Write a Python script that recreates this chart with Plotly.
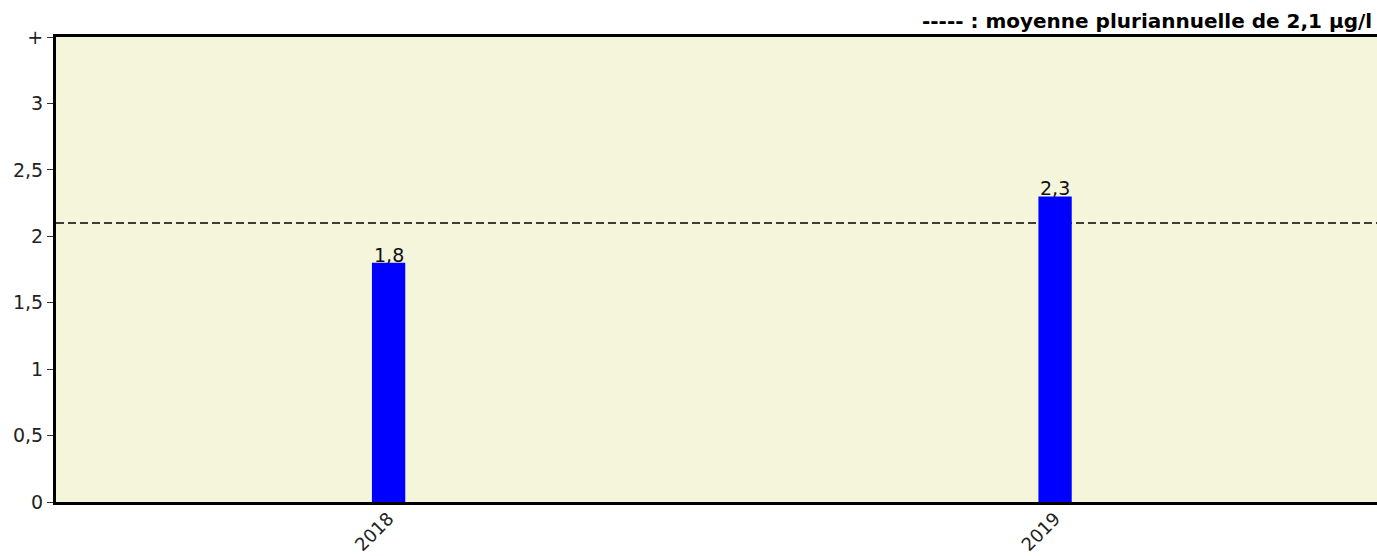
import plotly.graph_objects as go

years = ["2018", "2019"]
values = [1.8, 2.3]
value_labels = ["1,8", "2,3"]
mean_value = 2.1
y_tickvals = [0, 0.5, 1, 1.5, 2, 2.5, 3, 3.5]
y_ticktext = ["0", "0,5", "1", "1,5", "2", "2,5", "3", "+"]
legend_text = "----- : moyenne pluriannuelle de 2,1 µg/l"

FONT = "DejaVu Sans, Verdana, sans-serif"
FS = 19

fig = go.Figure()
fig.add_trace(go.Bar(
    x=years, y=values,
    marker=dict(color="#0000FF", line=dict(width=0)),
    width=0.05, hoverinfo="skip",
))

for i, (v, lab) in enumerate(zip(values, value_labels)):
    fig.add_annotation(x=i, y=v, xref="x", yref="y", text=lab,
                       showarrow=False, yanchor="bottom", xanchor="center",
                       yshift=-5,
                       font=dict(family=FONT, size=FS, color="#111"))

fig.add_shape(type="line", xref="paper", yref="y", x0=0, x1=1,
              y0=mean_value, y1=mean_value, layer="below",
              line=dict(color="black", width=1.5, dash="8px,4px"))

fig.add_annotation(xref="paper", yref="paper", x=0.998, y=1.0, yshift=2,
                   xanchor="right", yanchor="bottom", showarrow=False,
                   text="<b>" + legend_text + "</b>",
                   font=dict(family=FONT, size=20, color="black"))

fig.update_layout(
    width=1377, height=556,
    margin=dict(l=56, r=0, t=37, b=54, autoexpand=False),
    paper_bgcolor="white", plot_bgcolor="#F5F5DC",
    showlegend=False,
    font=dict(family=FONT, size=FS, color="#222"),
    xaxis=dict(type="category", range=[-0.499, 1.483], automargin=False,
               showline=True, linecolor="black", linewidth=3, mirror=True,
               ticks="", showgrid=False, tickangle=-45, ticklabelstandoff=-4,
               tickfont=dict(family=FONT, size=18, color="#222")),
    yaxis=dict(range=[0, 3.5], tickvals=y_tickvals, ticktext=y_ticktext,
               automargin=False,
               showline=True, linecolor="black", linewidth=3,
               ticks="outside", ticklen=6, tickwidth=1, tickcolor="#333",
               showgrid=False, zeroline=False,
               tickfont=dict(family=FONT, size=FS, color="#222")),
)

fig.write_html("out.html", config={"displayModeBar": False},
               post_script="document.body.style.margin='0';document.body.style.overflow='hidden';")
